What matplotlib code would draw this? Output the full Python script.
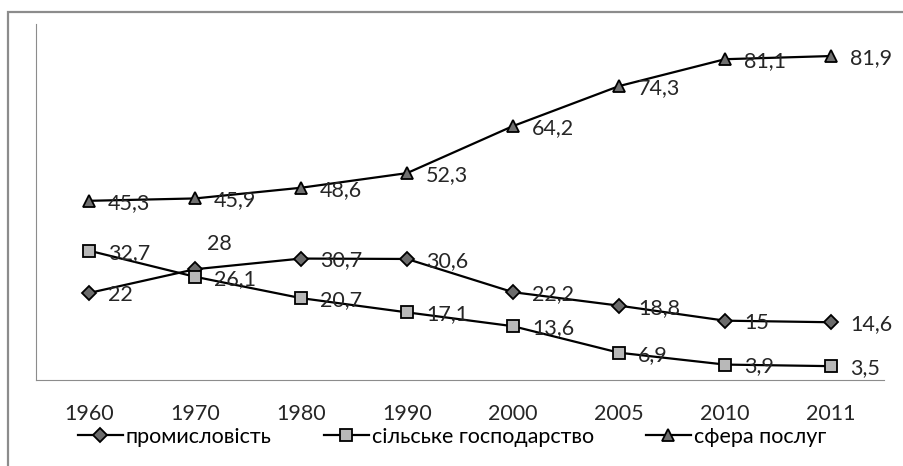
import matplotlib
matplotlib.use("Agg")
from matplotlib import pyplot as plt
from matplotlib.patches import Rectangle

years = ["1960", "1970", "1980", "1990", "2000", "2005", "2010", "2011"]
industry = [22, 28, 30.7, 30.6, 22.2, 18.8, 15, 14.6]
agriculture = [32.7, 26.1, 20.7, 17.1, 13.6, 6.9, 3.9, 3.5]
services = [45.3, 45.9, 48.6, 52.3, 64.2, 74.3, 81.1, 81.9]
names = ["промисловість", "сільське господарство", "сфера послуг"]

plt.rcParams['font.family'] = ['Lato', 'DejaVu Sans']
plt.rcParams['font.size'] = 15.5


def fmt(v):
    if v == int(v):
        return str(int(v))
    return str(v).replace(".", ",")


def main():
    W, H = 904, 466
    fig = plt.figure(figsize=(W / 100, H / 100), dpi=100)

    # outer chart border
    fig.patches.append(Rectangle((8 / W, -0.1), 1.2, 1 - 12 / H + 0.1,
                                 transform=fig.transFigure, fill=False,
                                 edgecolor='#8c8c8c', linewidth=1.6))

    ax = fig.add_axes([36 / W, (H - 380) / H, 848 / W, 356 / H])
    x = list(range(len(years)))

    series = [
        (industry, 'D', '#6b6b6b', 7),
        (agriculture, 's', '#b8b8b8', 9),
        (services, '^', '#707070', 9),
    ]
    for (vals, mk, fc, ms), name in zip(series, names):
        ax.plot(x, vals, color='black', linewidth=1.6, marker=mk,
                markersize=ms, markerfacecolor=fc, markeredgecolor='black',
                markeredgewidth=1.3, label=name)
        for i, v in enumerate(vals):
            dx, dy = 19, -2
            if vals is industry and i == 1:
                dx, dy = 12, 25
            ax.annotate(fmt(v), (i, v), xytext=(dx, dy),
                        textcoords='offset pixels', ha='left', va='center',
                        color='#262626')

    ax.set_xlim(-0.5, len(years) - 0.5)
    ax.set_ylim(0, 90)
    ax.set_xticks(x)
    ax.set_xticklabels(years)
    ax.set_yticks([])
    ax.tick_params(axis='x', length=0, pad=17, labelcolor='#262626')
    for s in ['top', 'right']:
        ax.spines[s].set_visible(False)
    ax.spines['left'].set_color('#8c8c8c')
    ax.spines['bottom'].set_color('#8c8c8c')

    fig.legend(loc='center', bbox_to_anchor=(0.5, 1 - 437 / H), ncol=3,
               frameon=False, handlelength=2.1, columnspacing=2.4,
               handletextpad=0.15)

    fig.savefig('out.png', dpi=100)


main()
